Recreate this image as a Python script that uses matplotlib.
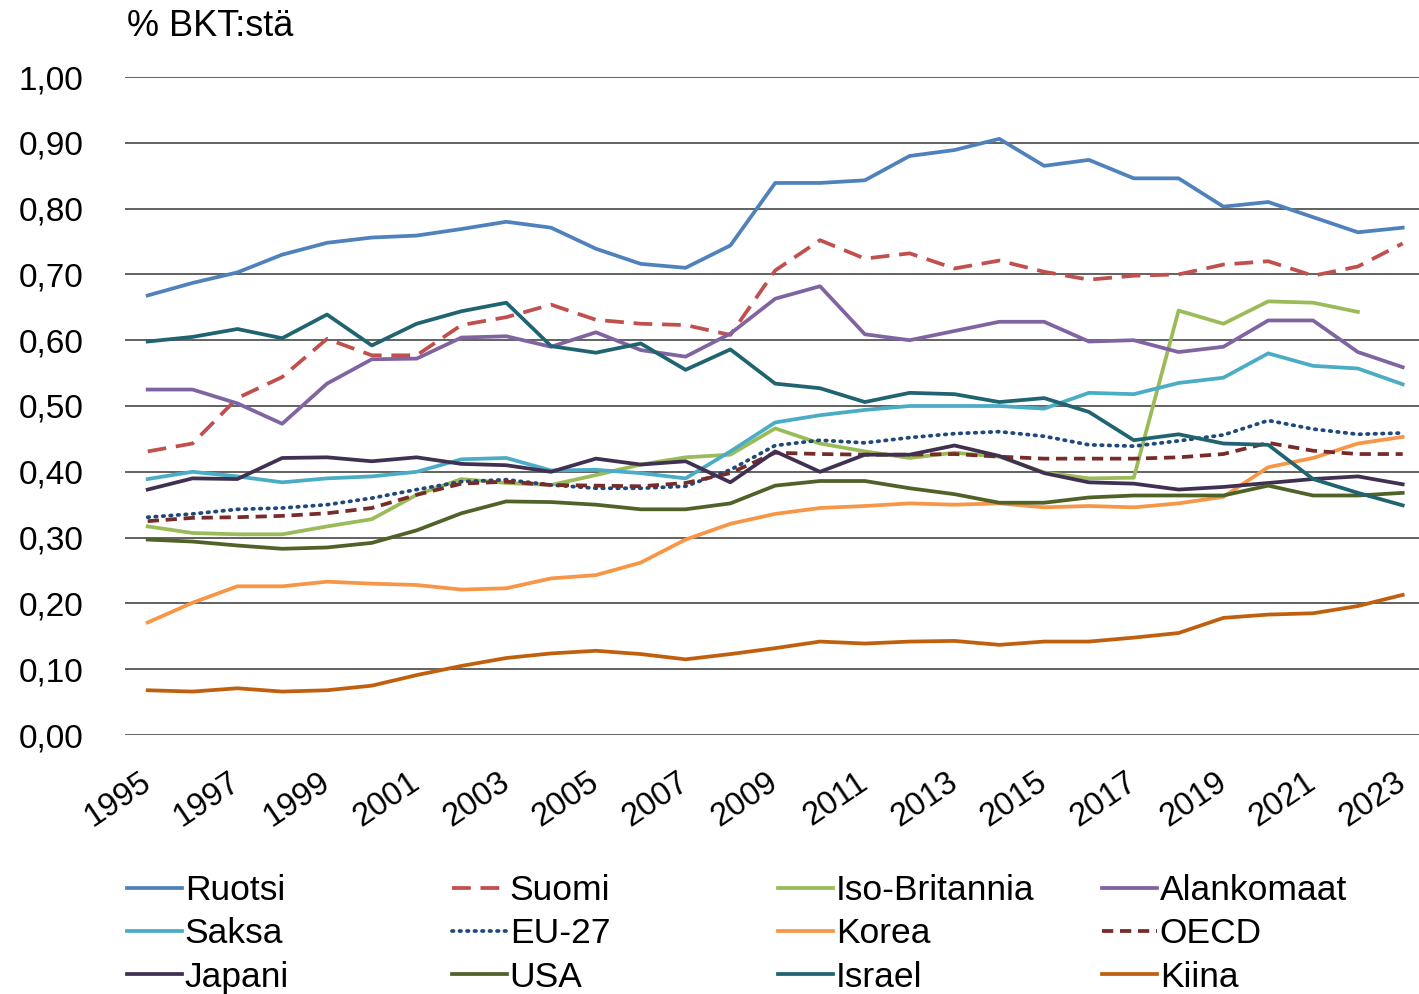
import numpy as np
import matplotlib
matplotlib.use("Agg")
import matplotlib.pyplot as plt
from matplotlib.ticker import FuncFormatter

plt.rcParams['font.family'] = ['Liberation Sans', 'DejaVu Sans']

years = list(range(1995, 2024))

ruotsi = [0.668, 0.687, 0.703, 0.730, 0.748, 0.756, 0.759, 0.769, 0.780, 0.771,
          0.739, 0.716, 0.710, 0.744, 0.839, 0.839, 0.843, 0.880, 0.889, 0.906,
          0.865, 0.874, 0.846, 0.846, 0.803, 0.810, 0.787, 0.764, 0.771]
suomi = [0.431, 0.443, 0.512, 0.544, 0.602, 0.577, 0.577, 0.623, 0.635, 0.654,
         0.631, 0.625, 0.623, 0.608, 0.706, 0.752, 0.724, 0.732, 0.709, 0.721,
         0.704, 0.692, 0.698, 0.700, 0.715, 0.720, 0.698, 0.712, 0.747]
iso_britannia = [0.317, 0.307, 0.305, 0.305, 0.317, 0.328, 0.365, 0.389, 0.383, 0.380,
                 0.395, 0.411, 0.422, 0.426, 0.466, 0.443, 0.431, 0.421, 0.429, 0.423,
                 0.399, 0.390, 0.391, 0.645, 0.625, 0.659, 0.657, 0.643, np.nan]
alankomaat = [0.525, 0.525, 0.504, 0.473, 0.534, 0.571, 0.572, 0.604, 0.606, 0.590,
              0.612, 0.585, 0.575, 0.610, 0.663, 0.682, 0.609, 0.600, 0.614, 0.628,
              0.628, 0.598, 0.600, 0.582, 0.590, 0.630, 0.630, 0.582, 0.559]
saksa = [0.389, 0.400, 0.393, 0.384, 0.390, 0.393, 0.400, 0.419, 0.421, 0.402,
         0.403, 0.398, 0.390, 0.431, 0.475, 0.486, 0.494, 0.500, 0.500, 0.500,
         0.496, 0.520, 0.518, 0.535, 0.543, 0.580, 0.561, 0.557, 0.533]
eu27 = [0.331, 0.336, 0.343, 0.345, 0.350, 0.360, 0.373, 0.385, 0.388, 0.380,
        0.375, 0.375, 0.378, 0.403, 0.440, 0.448, 0.444, 0.452, 0.458, 0.461,
        0.454, 0.441, 0.439, 0.447, 0.456, 0.478, 0.465, 0.457, 0.459]
korea = [0.171, 0.201, 0.226, 0.226, 0.233, 0.230, 0.228, 0.221, 0.223, 0.238,
         0.243, 0.262, 0.297, 0.321, 0.336, 0.345, 0.348, 0.352, 0.350, 0.352,
         0.346, 0.348, 0.346, 0.352, 0.362, 0.407, 0.421, 0.443, 0.453]
oecd = [0.325, 0.330, 0.331, 0.333, 0.337, 0.345, 0.365, 0.382, 0.385, 0.380,
        0.379, 0.378, 0.383, 0.398, 0.429, 0.427, 0.426, 0.426, 0.427, 0.423,
        0.420, 0.420, 0.420, 0.422, 0.427, 0.444, 0.432, 0.427, 0.427]
japani = [0.373, 0.390, 0.389, 0.421, 0.422, 0.416, 0.422, 0.412, 0.410, 0.400,
          0.420, 0.411, 0.416, 0.384, 0.431, 0.400, 0.426, 0.426, 0.440, 0.424,
          0.398, 0.384, 0.382, 0.373, 0.377, 0.383, 0.389, 0.393, 0.381]
usa = [0.297, 0.294, 0.288, 0.283, 0.285, 0.292, 0.311, 0.337, 0.355, 0.354,
       0.350, 0.343, 0.343, 0.352, 0.379, 0.386, 0.386, 0.375, 0.366, 0.353,
       0.353, 0.361, 0.364, 0.364, 0.364, 0.379, 0.364, 0.364, 0.368]
israel = [0.598, 0.605, 0.617, 0.603, 0.639, 0.592, 0.625, 0.644, 0.657, 0.591,
          0.581, 0.595, 0.555, 0.586, 0.534, 0.527, 0.506, 0.520, 0.518, 0.506,
          0.512, 0.491, 0.448, 0.457, 0.443, 0.441, 0.389, 0.368, 0.349]
kiina = [0.068, 0.066, 0.071, 0.066, 0.068, 0.075, 0.091, 0.105, 0.117, 0.124,
         0.128, 0.123, 0.115, 0.123, 0.132, 0.142, 0.139, 0.142, 0.143, 0.137,
         0.142, 0.142, 0.148, 0.155, 0.178, 0.183, 0.185, 0.196, 0.213]

# (label, data, colour, dash pattern)
series = [
    ("Ruotsi", ruotsi, "#4F81BD", None),
    ("Suomi", suomi, "#C0504D", (5, 2.6)),
    ("Iso-Britannia", iso_britannia, "#9BBB59", None),
    ("Alankomaat", alankomaat, "#8064A2", None),
    ("Saksa", saksa, "#4BACC6", None),
    ("EU-27", eu27, "#1F497D", (0.4, 1.6)),
    ("Korea", korea, "#F79646", None),
    ("OECD", oecd, "#772C2A", (3, 1.8)),
    ("Japani", japani, "#403152", None),
    ("USA", usa, "#4F6228", None),
    ("Israel", israel, "#1F6470", None),
    ("Kiina", kiina, "#C0600E", None),
]

W, H = 1419, 994
fig = plt.figure(figsize=(W / 100, H / 100), dpi=100)
ax = fig.add_axes([125.3 / W, 1 - 735 / H, 1299.8 / W, 658 / H])

lines = {}
for name, vals, col, dash in series:
    ln, = ax.plot(years, vals, color=col, lw=2.7, label=name)
    if dash is not None:
        ln.set_dashes(dash)
        if name == "EU-27":
            ln.set_dash_capstyle("round")
    lines[name] = ln

ax.set_xlim(1994.5, 2023.5)
ax.set_ylim(0, 1.0)
ax.set_yticks(np.arange(0, 1.01, 0.1))
ax.yaxis.set_major_formatter(FuncFormatter(lambda v, p: f"{v:.2f}".replace(".", ",")))
ax.grid(axis="y", color="#555555", lw=1.3)
ax.set_axisbelow(True)
for s in ax.spines.values():
    s.set_visible(False)

ax.set_xticks(years[::2])
ax.set_xticklabels([str(y) for y in years[::2]])
ax.tick_params(axis="y", length=0, pad=30, labelsize=24, labelcolor="black")
ax.tick_params(axis="x", length=0, pad=32, labelsize=23.5, labelcolor="black")
plt.setp(ax.get_xticklabels(), rotation=34, ha="right", va="center",
         rotation_mode="anchor")

fig.text(127 / W, 1 - 26 / H, "% BKT:stä", fontsize=26, ha="left", va="center")

columns = [["Ruotsi", "Saksa", "Japani"],
           ["Suomi", "EU-27", "USA"],
           ["Iso-Britannia", "Korea", "Israel"],
           ["Alankomaat", "OECD", "Kiina"]]
col_x = [127, 452, 778, 1102]
for names, x in zip(columns, col_x):
    leg = fig.legend([lines[n] for n in names], names, loc="upper left",
                     bbox_to_anchor=(x / W, 1 - 874 / H), borderaxespad=0,
                     borderpad=0, frameon=False, fontsize=25.5,
                     handlelength=1.55, handletextpad=0.08, labelspacing=0.29)

fig.savefig("out.png", dpi=100)
